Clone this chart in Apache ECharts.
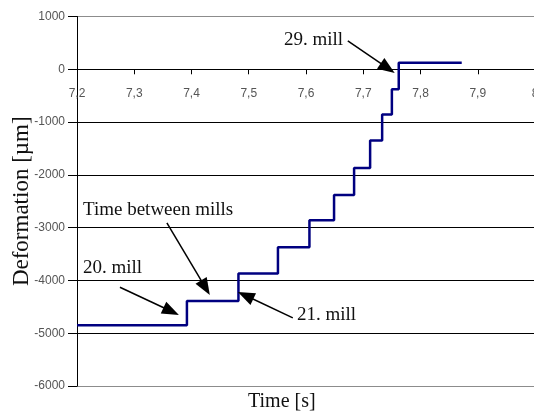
<!DOCTYPE html>
<html>
<head>
<meta charset="utf-8">
<script src="https://cdn.jsdelivr.net/npm/echarts@6/dist/echarts.min.js"></script>
<style>html,body{margin:0;padding:0;background:#fff}#c{width:534px;height:414px}</style>
</head>
<body>
<div id="c"></div>
<script>
// Data
const times = [7.2, 7.392, 7.482, 7.551, 7.606, 7.649, 7.684, 7.712, 7.733, 7.750, 7.762, 7.872];
const deformation = [-4850, -4390, -3870, -3370, -2860, -2380, -1870, -1350, -855, -380, 125, 125];
const yTicks = [-6000, -5000, -4000, -3000, -2000, -1000, 0, 1000];
const xTicks = [7.2, 7.3, 7.4, 7.5, 7.6, 7.7, 7.8, 7.9, 8];
// Annotation arrows in data coordinates [from, tip]
const arrows = [
  [[7.673, 536], [7.755, -70]],
  [[7.357, -2911], [7.432, -4275]],
  [[7.275, -4129], [7.378, -4653]],
  [[7.577, -4710], [7.481, -4217]]
];
const notes = [
  {text: '29. mill', x: 284, y: 42},
  {text: 'Time between mills', x: 83, y: 212},
  {text: '20. mill', x: 83, y: 270},
  {text: '21. mill', x: 297, y: 317}
];

const H = 414, gridTop = 16.5, gridBottom = 28;
const yMin = yTicks[0], yMax = yTicks[yTicks.length - 1];
const plotH = H - gridTop - gridBottom;
const zeroFromBottom = plotH * (0 - yMin) / (yMax - yMin);
const headLen = 17;

const chart = echarts.init(document.getElementById('c'), null, {renderer: 'canvas'});
const serif = '"Liberation Serif", "Times New Roman", serif';
const splitColors = yTicks.map((v, i) => (i === 0 || i === yTicks.length - 1) ? '#8c8c8c' : '#000');

function markData(list) {
  return list.map(a => [
    {coord: a[0], symbol: 'none'},
    {coord: a[1], symbol: 'triangle', symbolSize: [13, headLen]}
  ]);
}

chart.setOption({
  animation: false,
  grid: {left: 77, right: -1, top: gridTop, bottom: gridBottom, containLabel: false, outerBoundsMode: 'none'},
  xAxis: {
    type: 'value', position: 'bottom',
    offset: -zeroFromBottom,
    min: xTicks[0], max: xTicks[xTicks.length - 1], interval: 0.1,
    axisLine: {onZero: false, lineStyle: {color: '#000', width: 1}},
    axisTick: {show: true, length: 5, inside: false, lineStyle: {color: '#000'}},
    axisLabel: {
      margin: 18, color: '#555', fontSize: 12, fontFamily: '"Liberation Sans", Arial, sans-serif',
      showMinLabel: true, showMaxLabel: true, hideOverlap: false,
      formatter: v => (Math.abs(v - Math.round(v)) < 1e-9) ? String(Math.round(v)) : v.toFixed(1).replace('.', ',')
    },
    splitLine: {show: false}
  },
  yAxis: {
    type: 'value',
    min: yMin, max: yMax, interval: 1000,
    name: 'Deformation [\u00b5m]', nameLocation: 'middle', nameGap: 44, nameMoveOverlap: false,
    nameTextStyle: {fontFamily: serif, fontSize: 23, color: '#111'},
    axisLine: {show: true, onZero: false, lineStyle: {color: '#000', width: 1}},
    axisTick: {show: true, length: 9, lineStyle: {color: '#000'}},
    axisLabel: {margin: 12, color: '#555', fontSize: 12, fontFamily: '"Liberation Sans", Arial, sans-serif',
      formatter: v => String(v)},
    splitLine: {show: true, lineStyle: {color: splitColors, width: 1}}
  },
  graphic: notes.map(n => ({
    type: 'text', left: n.x, top: n.y - 11, silent: true,
    style: {text: n.text, font: '19px ' + serif, fill: '#111'}
  })).concat([{
    type: 'text', left: 248, top: 392, silent: true,
    style: {text: 'Time [s]', font: '20px ' + serif, fill: '#111'}
  }]),
  series: [{
    type: 'line',
    step: 'end',
    data: times.map((t, i) => [t, deformation[i]]),
    symbol: 'none',
    lineStyle: {color: '#000080', width: 2.5},
    markLine: {
      silent: true,
      animation: false,
      label: {show: false},
      lineStyle: {color: '#000', width: 1.5, type: 'solid'},
      symbol: ['none', 'triangle'],
      data: markData(arrows)
    }
  }]
});

// pull each arrow's end back so the triangle's tip (not its centre) lands on the target
const adjusted = arrows.map(a => {
  const p0 = chart.convertToPixel({gridIndex: 0}, a[0]);
  const p1 = chart.convertToPixel({gridIndex: 0}, a[1]);
  const dx = p1[0] - p0[0], dy = p1[1] - p0[1];
  const len = Math.hypot(dx, dy);
  const c = [p1[0] - dx / len * headLen / 2, p1[1] - dy / len * headLen / 2];
  return [a[0], chart.convertFromPixel({gridIndex: 0}, c)];
});
chart.setOption({series: [{markLine: {data: markData(adjusted)}}]});
</script>
</body>
</html>
